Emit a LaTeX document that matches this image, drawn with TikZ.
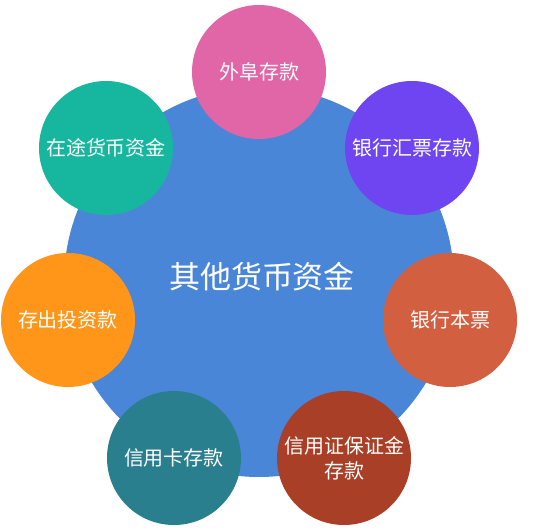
\documentclass[tikz,border=0pt]{standalone}
\usepackage{fontspec}
\setmainfont{Noto Sans CJK SC}
\usepackage{xcolor}
\usepackage{tikz}
\usetikzlibrary{shapes,calc}

\definecolor{cFund}{HTML}{4A86D8}
\definecolor{cPink}{HTML}{E066A8}
\definecolor{cGreen}{HTML}{17B79F}
\definecolor{cPurple}{HTML}{6E45F0}
\definecolor{cOrange}{HTML}{FF961A}
\definecolor{cRust}{HTML}{D15F40}
\definecolor{cTeal}{HTML}{297F8E}
\definecolor{cBrown}{HTML}{A83F26}

\tikzstyle{tsWhite} = [ 
    text=white, 
    font=\fontsize{20}{25}\selectfont
]
\tikzstyle{tsWraptext} = [ 
    tsWhite, 
    text centered, 
    align=center
]
\tikzstyle{tsCircle} = [ 
    circle,
    tsWraptext,
    inner sep=0pt,
    minimum size=134pt]

\begin{document}
\begin{tikzpicture}[x=1pt, y=-1pt]

    \useasboundingbox (0,0) rectangle (542,532);

    % big circle in the middle
    \node[  circle,
            minimum size=390pt,
            fill=cFund] (fund) at (259,282) {};
    \node[  tsWhite,
            font=\fontsize{31}{36}\selectfont] (fundtitle) at (262,277) {其他货币资金};

    % small circles round it
    \node[  tsCircle, fill=cPink] (waifu) at (259,72) {外阜存款};
    \node[  tsCircle, fill=cPurple] (huipiao) at (412,148) {银行汇票存款};
    \node[  tsCircle, fill=cRust] (benpiao) at (450,320) {银行本票};
    \node[  tsCircle, fill=cBrown] (baozheng) at (344,458) {信用证保证金\\存款};
    \node[  tsCircle, fill=cTeal] (xinyongka) at (174,458) {信用卡存款};
    \node[  tsCircle, fill=cOrange] (touzi) at (68,320) {存出投资款};
    \node[  tsCircle, fill=cGreen] (zaitu) at (106,148) {在途货币资金};

\end{tikzpicture}
\end{document}
